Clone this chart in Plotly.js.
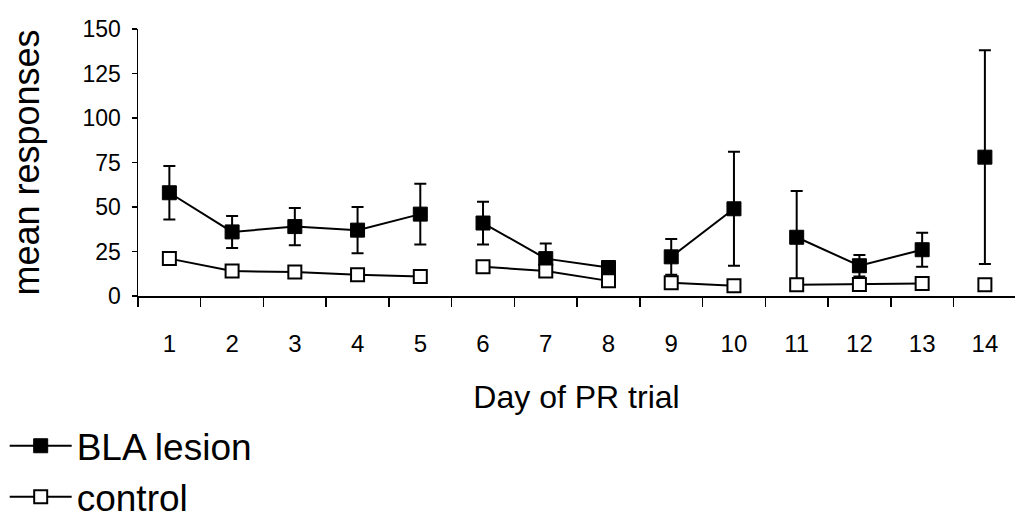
<!DOCTYPE html>
<html>
<head>
<meta charset="utf-8">
<script src="https://cdn.plot.ly/plotly-3.0.1.min.js"></script>
<style>html,body{margin:0;padding:0;background:#fff;}#chart{width:1015px;height:519px;}</style>
</head>
<body>
<div id="chart"></div>
<script>
// Day of progressive-ratio trial (category labels)
const days = ["1","2","3","4","5","6","7","8","9","10","11","12","13","14"];
// Days connected by a line belong to the same block
const block = [1,1,1,1,1,2,2,2,3,3,4,4,4,5];
// BLA lesion group: mean responses and error (SEM)
const blaMean = [58, 36, 39, 37, 46, 41, 21, 16, 22, 49, 33, 17, 26, 78];
const blaErr  = [15, 9, 10.5, 13, 17, 12, 8.5, 3, 10, 32, 26, 6, 9.5, 60];
// Control group: mean responses
const ctrlMean = [21, 14, 13.5, 12, 11, 16.5, 14, 8.5, 7.5, 5.7, 6.3, 6.5, 7, 6.3];
const yTicks = [0, 25, 50, 75, 100, 125, 150];

const FONT = "Arial, 'Liberation Sans', sans-serif";
const blocks = [...new Set(block)];
const traces = [];

function pick(arr, b){ return arr.filter((_, i) => block[i] === b); }

blocks.forEach((b, k) => {
  traces.push({
    type: "scatter", mode: "lines+markers",
    name: "BLA lesion", legendgroup: "bla", showlegend: k === 0,
    x: pick(days, b), y: pick(blaMean, b),
    error_y: {type: "data", array: pick(blaErr, b), visible: true, color: "#000", thickness: 2, width: 6},
    line: {color: "#000", width: 2},
    marker: {symbol: "square", size: 14, color: "#000", line: {color: "#000", width: 1}}
  });
});
blocks.forEach((b, k) => {
  traces.push({
    type: "scatter", mode: "lines+markers",
    name: "control", legendgroup: "ctrl", showlegend: k === 0,
    x: pick(days, b), y: pick(ctrlMean, b),
    line: {color: "#000", width: 2},
    marker: {symbol: "square", size: 13, color: "#fff", line: {color: "#000", width: 2}}
  });
});

const layout = {
  width: 1015, height: 519,
  paper_bgcolor: "#fff", plot_bgcolor: "#fff",
  margin: {l: 138, r: 0, t: 29, b: 223},
  font: {family: FONT, color: "#000"},
  showlegend: true,
  legend: {
    xref: "paper", yref: "container", x: -0.152, y: 0.2,
    xanchor: "left", yanchor: "top",
    font: {family: FONT, size: 37, color: "#000"},
    bgcolor: "rgba(0,0,0,0)", borderwidth: 0, itemwidth: 62,
    tracegroupgap: 0
  },
  xaxis: {
    type: "category", categoryorder: "array", categoryarray: days,
    range: [-0.5, 13.48], automargin: "left",
    tickson: "boundaries", ticks: "outside", ticklen: 9, tickwidth: 1.5, tickcolor: "#000",
    ticklabelstandoff: 26,
    tickfont: {family: FONT, size: 24, color: "#000"},
    showline: true, linecolor: "#000", linewidth: 1.5,
    showgrid: false, zeroline: false,
    title: {text: "Day of PR trial", font: {family: FONT, size: 32, color: "#000"}, standoff: 64}
  },
  yaxis: {
    range: [0, 150], tickvals: yTicks, ticktext: yTicks.map(String),
    ticks: "outside", ticklen: 5, tickwidth: 1.5, tickcolor: "#000",
    ticklabelstandoff: 6,
    tickfont: {family: FONT, size: 23, color: "#000"},
    showline: true, linecolor: "#000", linewidth: 1.5,
    showgrid: false, zeroline: false,
    title: {text: "mean responses", font: {family: FONT, size: 36, color: "#000"}, standoff: 32}
  }
};

Plotly.newPlot("chart", traces, layout, {displayModeBar: false, staticPlot: true});
</script>
</body>
</html>
